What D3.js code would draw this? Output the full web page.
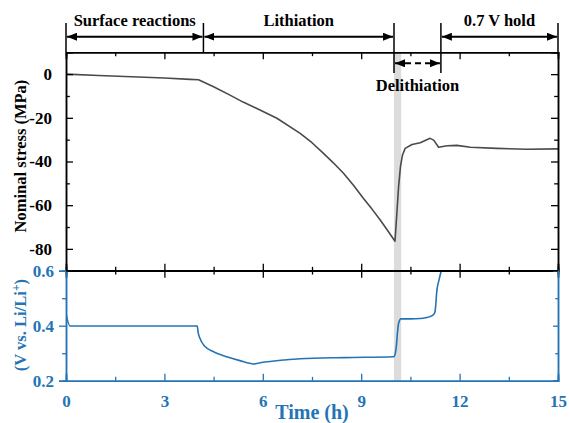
<!DOCTYPE html>
<html><head><meta charset="utf-8">
<script src="https://cdn.jsdelivr.net/npm/d3@7"></script>
<style>
html,body{margin:0;padding:0;background:#fff;}
svg{display:block;}
text{font-family:"Liberation Serif","Times New Roman",serif;font-weight:bold;}
</style></head>
<body><svg id="c" width="570" height="423"></svg>
<script>
// ---- data ----
const stressTime = [0, 1, 2, 3, 3.78, 4.04, 4.5, 5.0, 5.4, 5.82, 6.43, 7.14, 7.5, 7.85, 8.15, 8.46, 8.77, 9.07, 9.33, 9.58, 9.8, 10.03, 10.09, 10.14, 10.2, 10.26, 10.34, 10.55, 10.8, 11.1, 11.21, 11.36, 11.62, 11.92, 12.33, 13.14, 14.06, 15];
const stressVal  = [0, -0.6, -1.2, -1.8, -2.4, -2.6, -5.8, -9.6, -12.8, -15.7, -20.2, -27.1, -31.4, -36.3, -40.6, -45.4, -51.0, -56.9, -61.8, -66.8, -71.5, -76.5, -63, -51.5, -42, -37, -34, -32.2, -31.4, -29.4, -30.2, -33.5, -32.8, -32.6, -33.5, -34, -34.4, -34.2];
const voltTime = [0, 0.12, 4.0, 4.03, 4.08, 4.24, 4.5, 4.9, 5.3, 5.72, 5.92, 6.63, 7.14, 8.5, 9.99, 10.04, 10.07, 10.11, 10.14, 10.21, 10.5, 10.8, 11.0, 11.1, 11.2, 11.25, 11.31, 11.38, 11.44];
const voltVal  = [0.445, 0.399, 0.399, 0.375, 0.355, 0.324, 0.305, 0.287, 0.273, 0.261, 0.265, 0.275, 0.280, 0.284, 0.287, 0.30, 0.324, 0.38, 0.409, 0.425, 0.425, 0.426, 0.43, 0.433, 0.44, 0.451, 0.53, 0.57, 0.6];
const xMajorTicks = [0, 3, 6, 9, 12, 15];
const xMinorTicks = [1.5, 4.5, 7.5, 10.5, 13.5];
const stressMajorTicks = [-80, -60, -40, -20, 0];
const stressMinorTicks = [-70, -50, -30, -10];
const voltMajorTicks = [0.2, 0.4, 0.6];
const voltMinorTicks = [0.3, 0.5];
const phaseBounds = [0, 4.19, 10.0, 11.43, 15];
const phaseLabels = ["Surface reactions", "Lithiation", "Delithiation", "0.7 V hold"];
const shadedBand = [10.0, 10.22];

// ---- layout ----
const blue = "#2474b5", dark = "#4a4a4a";
const svg = d3.select("#c");
const x = d3.scaleLinear().domain([0, 15]).range([66, 558]);
const yS = d3.scaleLinear().domain([-90, 10]).range([270.7, 52.3]);
const yV = d3.scaleLinear().domain([0.2, 0.6]).range([380.7, 270.7]);
const topY = 52.3, midY = 270.7, botY = 380.7;

const defs = svg.append("defs");
defs.append("marker").attr("id", "ah").attr("viewBox", "0 0 10 8")
  .attr("refX", 10).attr("refY", 4).attr("markerWidth", 10).attr("markerHeight", 8)
  .attr("markerUnits", "userSpaceOnUse").attr("orient", "auto-start-reverse")
  .append("path").attr("d", "M0,0 L10,4 L0,8 Z").attr("fill", "#000");
defs.append("clipPath").attr("id", "clipTop").append("rect")
  .attr("x", x(0)).attr("y", topY).attr("width", x(15) - x(0)).attr("height", midY - topY);
defs.append("clipPath").attr("id", "clipBot").append("rect")
  .attr("x", x(0)).attr("y", midY).attr("width", x(15) - x(0)).attr("height", botY - midY);

// shaded band
svg.append("rect").attr("x", x(shadedBand[0])).attr("y", topY)
  .attr("width", x(shadedBand[1]) - x(shadedBand[0])).attr("height", botY - topY)
  .attr("fill", "#dcdcdc");

// curves
const stressData = stressTime.map((t, i) => [t, stressVal[i]]);
const voltData = voltTime.map((t, i) => [t, voltVal[i]]);
svg.append("path").datum(stressData).attr("clip-path", "url(#clipTop)")
  .attr("d", d3.line().x(d => x(d[0])).y(d => yS(d[1])).curve(d3.curveLinear))
  .attr("fill", "none").attr("stroke", dark).attr("stroke-width", 1.6)
  .attr("stroke-linejoin", "round");
svg.append("path").datum(voltData).attr("clip-path", "url(#clipBot)")
  .attr("d", d3.line().x(d => x(d[0])).y(d => yV(d[1])).curve(d3.curveMonotoneX))
  .attr("fill", "none").attr("stroke", blue).attr("stroke-width", 1.6);

// axes helper
function drawAxis(axisFn, scale, majors, minors, transform, color, size, labels, pad, fmt){
  const gMin = svg.append("g").attr("transform", transform)
    .call(axisFn(scale).tickValues(minors).tickSize(size * 0.55).tickFormat(""));
  const g = svg.append("g").attr("transform", transform)
    .call(axisFn(scale).tickValues(majors).tickSize(size).tickPadding(pad)
      .tickFormat(labels ? fmt : ""));
  [g, gMin].forEach(gg => {
    gg.attr("font-family", null).attr("font-size", null);
    gg.select(".domain").attr("stroke", color).attr("stroke-width", 1.5);
    gg.selectAll(".tick line").attr("stroke", color).attr("stroke-width", 1.3);
    gg.selectAll("text").attr("fill", color).style("font-size", "17px");
  });
  return g;
}
const fS = d => d3.format("d")(d).replace("−", "-");
const fV = d3.format(".1f");
// top panel
drawAxis(d3.axisTop, x, xMajorTicks, xMinorTicks, `translate(0,${topY})`, "#000", -7, false, 0);
drawAxis(d3.axisBottom, x, xMajorTicks, xMinorTicks, `translate(0,${midY})`, "#000", -7, false, 0);
drawAxis(d3.axisTop, x, xMajorTicks, xMinorTicks, `translate(0,${midY})`, "#000", -7, false, 0);
drawAxis(d3.axisLeft, yS, stressMajorTicks, stressMinorTicks, `translate(${x(0)},0)`, "#000", -7, true, 14, fS);
drawAxis(d3.axisRight, yS, stressMajorTicks, stressMinorTicks, `translate(${x(15)},0)`, "#000", -7, false, 0);
// bottom panel
drawAxis(d3.axisLeft, yV, voltMajorTicks, voltMinorTicks, `translate(${x(0)},0)`, blue, 7, true, 5, fV);
drawAxis(d3.axisRight, yV, voltMajorTicks, voltMinorTicks, `translate(${x(15)},0)`, blue, -5, false, 0);
drawAxis(d3.axisBottom, x, xMajorTicks, xMinorTicks, `translate(0,${botY})`, blue, -7, true, 14, d3.format("d"));
// redraw middle line in black on top
svg.append("line").attr("x1", x(0)).attr("x2", x(15)).attr("y1", midY).attr("y2", midY)
  .attr("stroke", "#000").attr("stroke-width", 1.5);

// axis titles
svg.append("text").attr("transform", `translate(26,${(yS(-80) + yS(5)) / 2}) rotate(-90)`)
  .attr("text-anchor", "middle").attr("fill", "#000").style("font-size", "16.5px")
  .text("Nominal stress (MPa)");
const vt = svg.append("text").attr("transform", `translate(26,325) rotate(-90)`)
  .attr("text-anchor", "middle").attr("fill", blue).style("font-size", "16.5px");
vt.append("tspan").text("(V vs. Li/Li");
vt.append("tspan").attr("dy", -6).style("font-size", "12px").text("+");
vt.append("tspan").attr("dy", 6).text(")");
svg.append("text").attr("x", 312).attr("y", 419).attr("text-anchor", "middle")
  .attr("fill", blue).style("font-size", "20px").text("Time (h)");

// phase annotations
const vTop = 23, arrowY = 36.7;
phaseBounds.forEach((b, i) => {
  const long = (i === 2 || i === 3);
  svg.append("line").attr("x1", x(b)).attr("x2", x(b)).attr("y1", vTop).attr("y2", long ? 73 : topY)
    .attr("stroke", "#000").attr("stroke-width", 1.5);
});
[[0, 1], [1, 2], [3, 4]].forEach(([a, b]) => {
  svg.append("line").attr("x1", x(phaseBounds[a]) + 1).attr("x2", x(phaseBounds[b]) - 1)
    .attr("y1", arrowY).attr("y2", arrowY).attr("stroke", "#000").attr("stroke-width", 2)
    .attr("marker-start", "url(#ah)").attr("marker-end", "url(#ah)");
});
svg.append("line").attr("x1", x(phaseBounds[2]) + 1).attr("x2", x(phaseBounds[3]) - 1)
  .attr("y1", 63.3).attr("y2", 63.3).attr("stroke", "#000").attr("stroke-width", 2)
  .attr("stroke-dasharray", "6,4")
  .attr("marker-start", "url(#ah)").attr("marker-end", "url(#ah)");
const labelPos = [[0, 1, 26], [1, 2, 26], [2, 3, 91], [3, 4, 26]];
labelPos.forEach(([a, b, yy], i) => {
  svg.append("text").attr("x", (x(phaseBounds[a]) + x(phaseBounds[b])) / 2).attr("y", yy)
    .attr("text-anchor", "middle").attr("fill", "#000").style("font-size", "16.5px")
    .text(phaseLabels[i]);
});
</script></body></html>
